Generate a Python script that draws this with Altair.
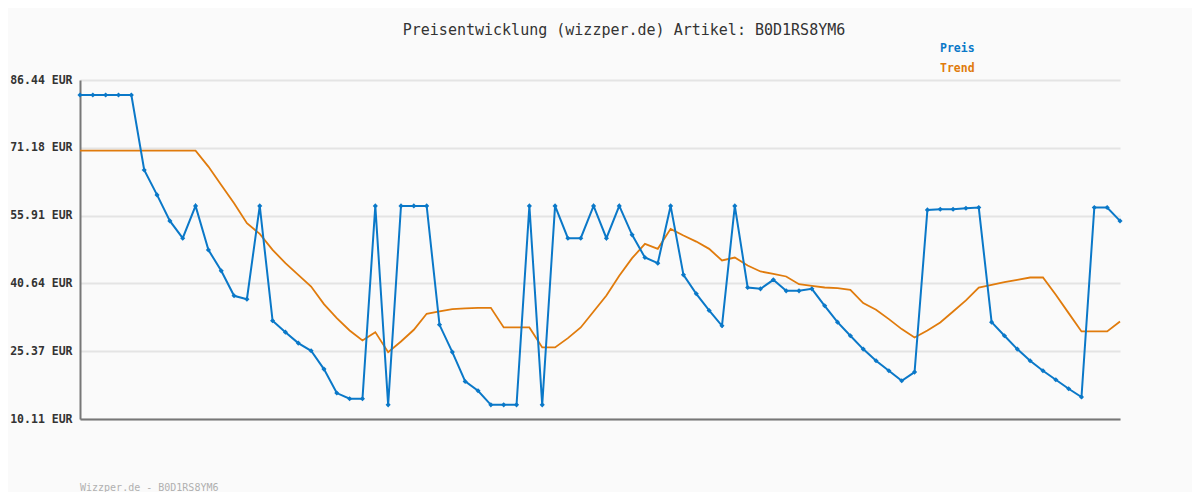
import altair as alt
import pandas as pd

title_text = "Preisentwicklung (wizzper.de) Artikel: B0D1RS8YM6"
footer_text = "Wizzper.de - B0D1RS8YM6"
y_ticks = [10.11, 25.37, 40.64, 55.91, 71.18, 86.44]

preis = [83.07, 83.07, 83.07, 83.07, 83.07, 66.19, 60.57, 54.72, 50.82, 58.09,
         48.19, 43.47, 37.85, 37.10, 58.09, 32.22, 29.67, 27.20, 25.47, 21.35,
         15.95, 14.67, 14.67, 58.09, 13.30, 58.09, 58.09, 58.09, 31.32, 25.17,
         18.57, 16.47, 13.30, 13.30, 13.30, 58.09, 13.30, 58.09, 50.82, 50.82,
         58.09, 50.82, 58.09, 51.57, 46.47, 45.20, 58.09, 42.57, 38.30, 34.55,
         31.10, 58.09, 39.72, 39.42, 41.45, 38.97, 38.97, 39.42, 35.60, 31.92,
         28.85, 25.85, 23.22, 20.97, 18.72, 20.67, 57.19, 57.34, 57.34, 57.57,
         57.72, 31.92, 28.85, 25.85, 23.22, 20.97, 18.95, 16.92, 15.05, 57.72,
         57.72, 54.72]

trend = [70.54, 70.54, 70.54, 70.54, 70.54, 70.54, 70.54, 70.54, 70.54, 70.54,
         66.94, 62.82, 58.70, 54.20, 51.79, 48.19, 45.20, 42.57, 39.94, 35.97,
         32.82, 30.04, 27.79, 29.67, 25.17, 27.57, 30.20, 33.80, 34.32, 34.85,
         35.00, 35.15, 35.15, 30.72, 30.72, 30.72, 26.22, 26.22, 28.32, 30.72,
         34.32, 37.92, 42.35, 46.32, 49.55, 48.42, 52.92, 51.42, 50.06, 48.42,
         45.80, 46.47, 44.67, 43.32, 42.80, 42.20, 40.47, 40.10, 39.72, 39.57,
         39.20, 36.20, 34.70, 32.60, 30.35, 28.47, 30.04, 31.84, 34.32, 36.80,
         39.72, 40.32, 40.92, 41.45, 41.97, 41.97, 38.07, 33.95, 29.82, 29.82,
         29.82, 32.07]

series_names = ["Preis", "Trend"]
series_colors = ["#0a78c8", "#e07b0c"]

n = len(preis)
df = pd.DataFrame({
    "idx": list(range(n)) * 2,
    "value": preis + trend,
    "series": ["Preis"] * n + ["Trend"] * n,
})
df_preis = df[df.series == "Preis"]
df_trend = df[df.series == "Trend"]

mono = "DejaVu Sans Mono"

x_enc = alt.X("idx:Q", scale=alt.Scale(domain=[0, n - 1], nice=False, zero=False),
              axis=alt.Axis(labels=False, ticks=False, grid=False, title=None,
                            domainColor="#777777", domainWidth=2))
y_enc = alt.Y("value:Q", scale=alt.Scale(domain=[y_ticks[0], y_ticks[-1]], nice=False, zero=False),
              axis=alt.Axis(values=y_ticks, labelExpr="format(datum.value, '.2f') + ' EUR'",
                            ticks=False, title=None, grid=True, gridColor="#e4e4e4", gridWidth=2,
                            domainColor="#777777", domainWidth=2, labelFont=mono,
                            labelFontSize=11.5, labelFontWeight="bold", labelColor="#333333",
                            labelPadding=8))

color_scale = alt.Scale(domain=series_names, range=series_colors)

trend_line = alt.Chart(df_trend).mark_line(strokeWidth=1.8).encode(
    x=x_enc, y=y_enc, color=alt.Color("series:N", scale=color_scale, legend=None))
preis_line = alt.Chart(df_preis).mark_line(strokeWidth=2).encode(
    x=x_enc, y=y_enc, color=alt.Color("series:N", scale=color_scale, legend=None))
preis_pts = alt.Chart(df_preis).mark_point(shape="diamond", filled=True, size=26, opacity=1).encode(
    x=x_enc, y=y_enc, color=alt.Color("series:N", scale=color_scale, legend=None))

legend_preis = alt.Chart(pd.DataFrame({"t": ["Preis"]})).mark_text(
    font=mono, fontSize=11.5, fontWeight="bold", align="left", baseline="middle",
    color=series_colors[0]).encode(text="t:N", x=alt.value(860), y=alt.value(-31))
legend_trend = alt.Chart(pd.DataFrame({"t": ["Trend"]})).mark_text(
    font=mono, fontSize=11.5, fontWeight="bold", align="left", baseline="middle",
    color=series_colors[1]).encode(text="t:N", x=alt.value(860), y=alt.value(-11))
footer = alt.Chart(pd.DataFrame({"t": [footer_text]})).mark_text(
    font=mono, fontSize=10, align="left", baseline="middle",
    color="#b0b0b0").encode(text="t:N", x=alt.value(0), y=alt.value(408))
title = alt.Chart(pd.DataFrame({"t": [title_text]})).mark_text(
    font=mono, fontSize=15, align="center", baseline="middle",
    color="#333333").encode(text="t:N", x=alt.value(544), y=alt.value(-50))

chart = alt.layer(trend_line, preis_line, preis_pts, legend_preis, legend_trend, footer, title).properties(
    width=1040, height=339,
    autosize=alt.AutoSizeParams(type="none"),
    padding={"left": 72, "top": 72, "right": 72, "bottom": 73},
    background="#fafafa",
).configure_view(stroke=None)

chart.save("out.html", embed_options={"renderer": "svg", "actions": False})
